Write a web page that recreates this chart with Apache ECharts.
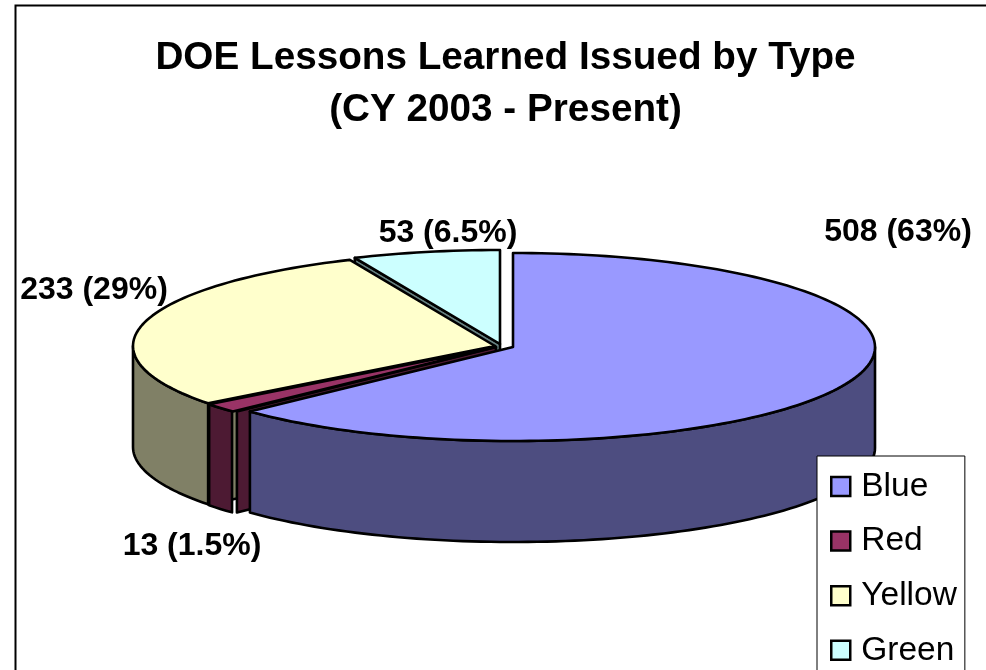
<!DOCTYPE html>
<html>
<head>
<meta charset="utf-8">
<style>html,body{margin:0;padding:0;background:#fff;overflow:hidden}#c{width:986px;height:670px}</style>
<script src="https://cdn.jsdelivr.net/npm/echarts@6/dist/echarts.min.js"></script>
</head>
<body>
<div id="c"></div>
<script>
const categories = ['Blue', 'Red', 'Yellow', 'Green'];
const values = [508, 13, 233, 53];
const labelTexts = ['508 (63%)', '13 (1.5%)', '233 (29%)', '53 (6.5%)'];
const topColors = ['#9999FF', '#993366', '#FFFFCC', '#CCFFFF'];
const sideColors = ['#4D4D80', '#4D1A33', '#808066', '#668080'];
const titleText = 'DOE Lessons Learned Issued by Type\n(CY 2003 - Present)';

// Drawing geometry (exploded-slice centres, ellipse radii, label anchors)
const RX = 362, RY = 94, DEPTH = 101;
const centers = [[513, 347], [496, 347], [495, 346], [500, 344]];
const labelAnchors = [[898, 232.5], [192, 546.5], [94, 290.5], [448, 233.5]];
const sliceZ = [4, 3, 2, 1];

const total = values.reduce((a, b) => a + b, 0);
const angles = [];
values.reduce((acc, v) => { angles.push([acc / total * 360, (acc + v) / total * 360]); return acc + v; }, 0);

function rim(c, deg, dy) {
  const t = deg * Math.PI / 180;
  return [c[0] + RX * Math.sin(t), c[1] - RY * Math.cos(t) + (dy || 0)];
}
function arc(c, a0, a1, dy) {
  const pts = [], n = Math.max(2, Math.ceil(Math.abs(a1 - a0) / 1.5));
  for (let i = 0; i <= n; i++) pts.push(rim(c, a0 + (a1 - a0) * i / n, dy));
  return pts;
}
function poly(points, fill) {
  return { type: 'polygon', shape: { points },
    style: { fill, stroke: '#000', lineWidth: 2.6, lineJoin: 'round' } };
}
function wall(c, a0, a1, fill) {
  return poly(arc(c, a0, a1, 0).concat(arc(c, a1, a0, DEPTH)), fill);
}
function cutFace(apex, c, deg, fill) {
  const p = rim(c, deg, 0);
  return poly([apex, p, [p[0], p[1] + DEPTH], [apex[0], apex[1] + DEPTH]], fill);
}
function topFace(c, a0, a1, fill) {
  return poly([c].concat(arc(c, a0, a1, 0)), fill);
}
function sliceChildren(i) {
  const c = centers[i], a0 = angles[i][0], a1 = angles[i][1];
  const top = topColors[i], side = sideColors[i], kids = [];
  if (i === 0) {
    kids.push(wall(c, 90, a1, side));
  } else if (i === 1) {
    kids.push(cutFace(c, [c[0] + 4, c[1]], a0, side));
    kids.push(wall(c, a0 + 0.2, a1, side));
  } else if (i === 2) {
    kids.push(cutFace(c, c, a0, side));
    kids.push(wall(c, a0, 270, side));
  } else {
    kids.push(cutFace(c, c, a0, side));
  }
  kids.push(topFace(c, a0, a1, top));
  kids.push({ type: 'text', x: labelAnchors[i][0], y: labelAnchors[i][1],
    style: { text: labelTexts[i], fill: '#000', align: 'center', verticalAlign: 'middle',
      font: 'bold 32px "Liberation Sans", Arial, sans-serif' } });
  return { type: 'group', children: kids };
}

const chart = echarts.init(document.getElementById('c'), null, { renderer: 'canvas' });
chart.setOption({
  animation: false,
  backgroundColor: '#fff',
  title: {
    text: titleText, left: 505.5, top: 32, padding: 0, textAlign: 'center',
    textStyle: { fontFamily: '"Liberation Sans", Arial, sans-serif', fontWeight: 'bold', fontSize: 38.7, lineHeight: 52, color: '#000' }
  },
  legend: {
    data: categories, orient: 'vertical', left: 817, top: 456, height: 300,
    padding: [12, 8, 24, 13], itemGap: 17.6, itemWidth: 19, itemHeight: 19, icon: 'rect',
    backgroundColor: '#fff', borderColor: '#000', borderWidth: 1, z: 10,
    itemStyle: { borderColor: '#000', borderWidth: 2.5 },
    textStyle: { fontFamily: '"Liberation Sans", Arial, sans-serif', fontSize: 33.5, lineHeight: 37, color: '#000', padding: [0, 0, 0, 6] },
    selectedMode: false
  },
  graphic: [{ type: 'polyline', silent: true, shape: { points: [[15.5, 700], [15.5, 5.5], [1000, 5.5]] },
    style: { fill: 'none', stroke: '#000', lineWidth: 2 } }],
  series: categories.map((name, i) => ({
    type: 'custom', name, coordinateSystem: 'none', z: sliceZ[i], silent: true,
    itemStyle: { color: topColors[i] },
    data: [[values[i]]],
    renderItem: () => sliceChildren(i)
  }))
});
</script>
</body>
</html>
